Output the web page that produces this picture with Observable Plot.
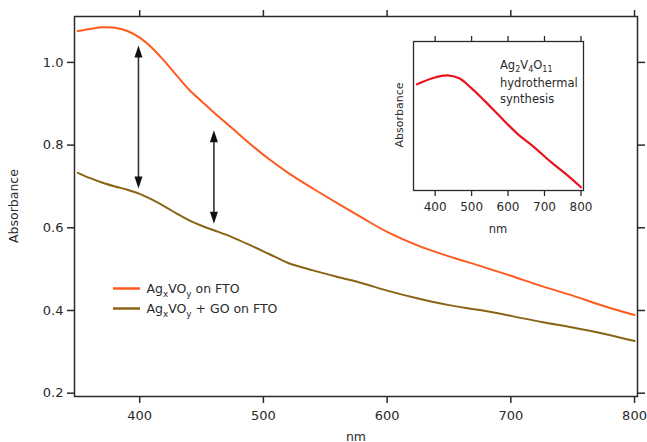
<!DOCTYPE html>
<html>
<head>
<meta charset="utf-8">
<script src="https://cdn.jsdelivr.net/npm/d3@7"></script>
<script src="https://cdn.jsdelivr.net/npm/@observablehq/plot@0.6"></script>
<style>
  html, body { margin: 0; padding: 0; background: white; }
  #wrap { position: relative; width: 647px; height: 442px; }
  #inset { position: absolute; left: 385px; top: 25px; }
</style>
</head>
<body>
<div id="wrap"><div id="main"></div><div id="inset"></div></div>
<script>
// ---- main chart data ----
const nm = [350,360,370,380,390,400,410,420,430,440,450,460,475,490,505,520,540,560,580,600,625,650,675,700,725,750,775,800];
const agxvoyFTO = [1.076,1.081,1.085,1.084,1.076,1.060,1.035,1.003,0.968,0.934,0.906,0.879,0.840,0.801,0.765,0.733,0.695,0.659,0.624,0.590,0.557,0.531,0.508,0.484,0.459,0.436,0.411,0.389];
const agxvoyGO  = [0.733,0.720,0.709,0.700,0.692,0.682,0.668,0.652,0.634,0.618,0.605,0.594,0.577,0.557,0.536,0.515,0.497,0.481,0.466,0.448,0.429,0.413,0.401,0.387,0.372,0.359,0.344,0.326];
const xTicks = [400,500,600,700,800];
const yTicks = [0.2,0.4,0.6,0.8,1.0];

// double-headed arrows
const arrowNm = [399, 460];
const arrowTop = [1.041, 0.836];
const arrowBottom = [0.695, 0.610];

// ---- inset data ----
const insetNm  = [350,397,434,466,498,535,580,626,672,718,764,800];
const insetAbs = [0.713,0.757,0.773,0.753,0.690,0.603,0.491,0.380,0.290,0.190,0.100,0.022];
const insetTicks = [400,500,600,700,800];

const seriesColors = {fto: "#ff5a1e", go: "#8a6414"};
const insetColor = "#e8141c";

const rows = nm.flatMap((x, i) => [
  {nm: x, abs: agxvoyFTO[i], s: "fto"},
  {nm: x, abs: agxvoyGO[i], s: "go"}
]);
const arrows = arrowNm.map((x, i) => ({nm: x, top: arrowTop[i], bottom: arrowBottom[i]}));
const insetRows = insetNm.map((x, i) => ({nm: x, abs: insetAbs[i]}));

const upHead = {draw(ctx) { ctx.moveTo(0, 0); ctx.lineTo(4, 12); ctx.lineTo(-4, 12); ctx.closePath(); }};
const downHead = {draw(ctx) { ctx.moveTo(0, 0); ctx.lineTo(4, -12); ctx.lineTo(-4, -12); ctx.closePath(); }};

const FONT = "DejaVu Sans, sans-serif";
const ink = "#2a2a2a";

const main = Plot.plot({
  width: 647, height: 442,
  marginLeft: 74, marginRight: 10, marginTop: 16, marginBottom: 46,
  style: {fontFamily: FONT, fontSize: "13px", color: ink, background: "white", overflow: "visible"},
  x: {domain: [347.3, 802.4]},
  y: {domain: [0.192, 1.111]},
  color: {domain: ["fto", "go"], range: [seriesColors.fto, seriesColors.go]},
  marks: [
    Plot.axisX({ticks: xTicks, tickSize: 7, tickPadding: 7, strokeWidth: 1.5, label: null, fontSize: 13}),
    Plot.axisX({anchor: "top", ticks: xTicks, tickSize: 7, strokeWidth: 1.5, tickFormat: () => "", label: null}),
    Plot.axisY({ticks: yTicks, tickSize: 7, tickPadding: 4, strokeWidth: 1.5, tickFormat: d3.format(".1f"), label: null, fontSize: 13}),
    Plot.axisY({anchor: "right", ticks: yTicks, tickSize: 7, strokeWidth: 1.5, tickFormat: () => "", label: null}),
    Plot.frame({stroke: ink, strokeWidth: 1.5}),
    Plot.line(rows, {x: "nm", y: "abs", z: "s", stroke: "s", strokeWidth: 2, curve: "catmull-rom"}),
    Plot.ruleX(arrows, {x: "nm", y1: "top", y2: "bottom", stroke: "#333", strokeWidth: 1.6, insetTop: 8, insetBottom: 8}),
    Plot.dot(arrows, {x: "nm", y: "top", symbol: upHead, fill: "#111", stroke: "none"}),
    Plot.dot(arrows, {x: "nm", y: "bottom", symbol: downHead, fill: "#111", stroke: "none"})
  ]
});
document.getElementById("main").appendChild(main);

function subText(g, x, y, parts, size) {
  const t = g.append("text").attr("x", x).attr("y", y).attr("text-anchor", "start")
    .attr("font-family", FONT).attr("font-size", size).attr("fill", ink);
  let shift = 0;
  for (const [str, sub] of parts) {
    const want = sub ? 3.5 : 0;
    const ts = t.append("tspan").text(str).attr("dy", want - shift);
    if (sub) ts.attr("font-size", size * 0.7);
    shift = want;
  }
  return t;
}
function label(g, x, y, str, size, rotate) {
  const t = g.append("text").attr("text-anchor", "middle").attr("dominant-baseline", "central")
    .attr("font-family", FONT).attr("font-size", size).attr("fill", ink).text(str);
  if (rotate) t.attr("transform", `translate(${x},${y}) rotate(-90)`);
  else t.attr("x", x).attr("y", y);
}

const svg = d3.select(main);
const lg = svg.append("g");
label(lg, 13, 206, "Absorbance", 12.5, true);
label(lg, 356, 436, "nm", 12.5, false);
const legendItems = [
  {s: "fto", parts: [["Ag"], ["x", true], ["VO"], ["y", true], [" on FTO"]]},
  {s: "go",  parts: [["Ag"], ["x", true], ["VO"], ["y", true], [" + GO on FTO"]]}
];
legendItems.forEach((d, i) => {
  const y = 288.5 + i * 20;
  lg.append("line").attr("x1", 113).attr("x2", 140).attr("y1", y).attr("y2", y)
    .attr("stroke", seriesColors[d.s]).attr("stroke-width", 2.5);
  subText(lg, 146.5, y + 4.5, d.parts, 12.5);
});

// ---- inset ----
const inset = Plot.plot({
  width: 207, height: 215,
  marginLeft: 28, marginRight: 9, marginTop: 16, marginBottom: 50,
  style: {fontFamily: FONT, fontSize: "12px", color: ink, background: "transparent", overflow: "visible"},
  x: {domain: [340.6, 807]},
  y: {domain: [0, 1], axis: null},
  marks: [
    Plot.axisX({ticks: insetTicks, tickSize: 6, tickPadding: 6, strokeWidth: 1.3, label: null, fontSize: 12}),
    Plot.axisX({anchor: "top", ticks: insetTicks, tickSize: 6, strokeWidth: 1.3, tickFormat: () => "", label: null}),
    Plot.frame({stroke: ink, strokeWidth: 1.3}),
    Plot.line(insetRows, {x: "nm", y: "abs", stroke: insetColor, strokeWidth: 2.2, curve: "catmull-rom"})
  ]
});
document.getElementById("inset").appendChild(inset);
const ig = d3.select(inset).append("g");
label(ig, 14, 90, "Absorbance", 11, true);
label(ig, 113, 204, "nm", 11.5, false);
subText(ig, 115, 43.5, [["Ag"], ["2", true], ["V"], ["4", true], ["O"], ["11", true]], 11.5);
ig.append("text").attr("x", 115).attr("y", 62).attr("text-anchor", "start").attr("font-family", FONT).attr("font-size", 11.5).attr("fill", ink).text("hydrothermal");
ig.append("text").attr("x", 115).attr("y", 77.5).attr("text-anchor", "start").attr("font-family", FONT).attr("font-size", 11.5).attr("fill", ink).text("synthesis");
</script>
</body>
</html>
